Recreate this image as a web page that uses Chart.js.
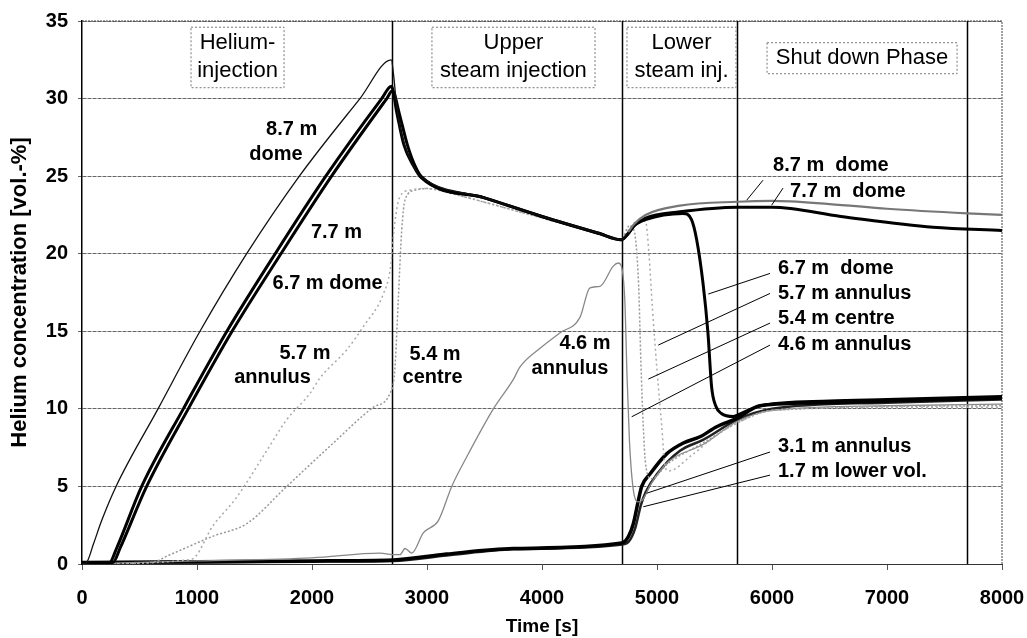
<!DOCTYPE html>
<html>
<head>
<meta charset="utf-8">
<script src="https://cdn.jsdelivr.net/npm/chart.js@4.4.1/dist/chart.umd.min.js"></script>
<style>
html,body{margin:0;padding:0;background:#fff;}
</style>
</head>
<body>
<canvas id="myChart" width="1027" height="638"></canvas>
<script>
// series: time [s] and helium concentration [vol.-%]
var t87 = [0,40,100,171,296,661,1026,1432,1890,2417,2690,2710,2730,2770,2830,2900,2960,3500,4000,4500,4690,4750,4800,4900,5200,5700,6000,6500,7000,7700,8000];
var v87 = [0,0.1,1.3,2.8,5,10,15,20,25,30,32.5,31.5,30,28,26.5,25.4,24.9,23.6,22.4,21.3,20.9,21.4,21.9,22.5,23.1,23.35,23.4,23.2,22.9,22.6,22.5];

var t77 = [0,240,300,519,881,1260,1680,2120,2606,2690,2740,2800,2880,2950,3500,4000,4500,4690,4750,4800,4900,5200,5700,6000,6600,7400,8000];
var v77 = [0.1,0.1,1,5,10,15,20,25,30,30.8,29,27,25.7,24.9,23.6,22.4,21.3,20.9,21.3,21.8,22.3,22.7,23.0,23.0,22.4,21.7,21.5];

var t67 = [0,270,330,562,924,1305,1730,2170,2650,2700,2760,2830,2900,2960,3500,4000,4500,4690,4750,4800,4900,5226,5300,5345,5400,5443,5475,5510,5560,5664,5700,5900,6500,7000,8000];
var v67 = [0.1,0.1,1,5,10,15,20,25,30,30.5,29,27,25.6,24.9,23.6,22.4,21.3,20.9,21.3,21.8,22.2,22.6,22.2,20.9,18.1,14.9,11.4,10.2,9.7,9.5,9.6,10.2,10.5,10.6,10.8];

var t57 = [0,950,1142,1345,1606,1780,1983,2070,2301,2446,2620,2680,2720,2760,2850,3000,3200,3461,4000,4500,4690,4750,4800,4900,4930,4960,5000,5040,5070,5100,5300,5500,5700,6000,7000,8000];
var v57 = [0,0.3,2.5,4.3,7.3,9.3,11,12,13.8,15.3,17.4,19,22,23.6,24.1,24.2,23.9,23.4,22.3,21.3,20.9,21.5,22,22.1,20,16.5,12.5,9,6.3,6.0,7.0,8.2,9.1,9.9,10.1,10.1];

var t54 = [0,600,765,1142,1432,1780,2157,2533,2678,2720,2750,2780,2810,2900,3000,3200,3461,4000,4500,4690,4760,4800,4840,4860,4880,4900,4950,5100,5400,5700,6000,8000];
var v54 = [0,0.1,0.6,1.8,2.6,5,7.6,10.1,11,12.5,17,21.5,23.5,24.1,24.2,23.9,23.4,22.3,21.3,20.9,21.8,21.5,18,13,9,6.5,5.5,6.5,7.8,9.1,9.9,10.2];

var t46 = [0,1000,2000,2594,2700,2765,2809,2867,2968,3099,3215,3345,3577,3751,3809,3983,4157,4330,4417,4504,4620,4664,4690,4720,4740,4760,4790,4830,4870,4950,5100,5400,5700,6000,7000,8000];
var v46 = [0,0.2,0.4,0.7,0.6,0.6,1.0,0.7,2.0,2.8,5.0,6.9,10,11.9,12.7,13.9,14.9,15.9,17.8,17.9,19.2,19.4,19.2,17,12,8,5,4,4.1,5.2,6.6,7.7,9.2,9.9,10.2,10.3];

var t31 = [0,1000,2000,2707,3171,3750,4693,4751,4794,4838,4867,4939,5084,5229,5374,5519,5698,5896,6500,7000,8000];
var v31 = [0.1,0.15,0.2,0.26,0.64,1.0,1.35,1.76,2.6,4.1,5.0,5.8,7.1,7.8,8.2,8.85,9.4,10.2,10.4,10.5,10.7];

var t17 = [0,1000,2000,2707,3171,3750,4700,4760,4810,4860,4900,5000,5200,5400,5700,6000,7000,8000];
var v17 = [0.1,0.1,0.15,0.2,0.55,0.95,1.25,1.5,2.3,3.8,4.6,5.8,7.3,8.0,9.3,10.0,10.4,10.6];

var xTicks = [0,1000,2000,3000,4000,5000,6000,7000,8000];
var yTicks = [0,5,10,15,20,25,30,35];
var phaseTimes = [2700,4700,5700,7700];
var phaseNames = [["Helium-","injection"],["Upper","steam injection"],["Lower","steam inj."],["Shut down Phase"]];
var curveNames = ["8.7 m  dome","7.7 m  dome","6.7 m  dome","5.7 m annulus","5.4 m centre","4.6 m annulus","3.1 m annulus","1.7 m lower vol."];

const pts = (ts, vs) => ts.map((t, i) => ({x: t, y: vs[i]}));

// where things go on the plot (data coordinates)
const phaseBoxes = [
  {t0: 948, t1: 1757, v0: 30.7, v1: 34.6, rows: [33.6, 31.8]},
  {t0: 3043, t1: 4461, v0: 30.7, v1: 34.6, rows: [33.6, 31.8]},
  {t0: 4739, t1: 5687, v0: 30.7, v1: 34.6, rows: [33.6, 31.8]},
  {t0: 5957, t1: 7609, v0: 31.6, v1: 33.6, rows: [32.6]}
];
const leftLabels = [
  ["8.7 m", 1823, 28.0], ["dome", 1687, 26.4],
  ["7.7 m", 2213, 21.4],
  ["6.7 m dome", 2135, 18.1],
  ["5.7 m", 1939, 13.6], ["annulus", 1657, 12.05],
  ["5.4 m", 3070, 13.5], ["centre", 3048, 12.0],
  ["4.6 m", 4374, 14.2], ["annulus", 4243, 12.6]
];
const rightLabels = [
  [6009, 25.7, 5780, 23.45, 5922, 24.74],
  [6157, 24.0, 5997, 23.13, 6096, 24.23],
  [6052, 19.07, 5446, 17.4, 5983, 18.73],
  [6052, 17.46, 5011, 14.11, 5983, 17.44],
  [6052, 15.83, 4925, 11.92, 5983, 15.53],
  [6052, 14.18, 4780, 9.49, 5983, 14.11],
  [6052, 7.56, 4910, 4.56, 5983, 7.22],
  [6052, 5.95, 4881, 3.69, 5983, 5.73]
];

const FONT = '"Liberation Sans", Arial, sans-serif';

const phasePlugin = {
  id: 'phases',
  beforeDatasetsDraw(chart) {
    const {ctx, chartArea: a, scales: {x}} = chart;
    ctx.save();
    ctx.strokeStyle = '#444';
    ctx.lineWidth = 1;
    ctx.setLineDash([2, 1]);
    ctx.beginPath();
    ctx.moveTo(a.left, a.top); ctx.lineTo(a.right, a.top); ctx.lineTo(a.right, a.bottom);
    ctx.stroke();
    ctx.setLineDash([]);
    ctx.strokeStyle = '#000';
    ctx.lineWidth = 1.5;
    for (const t of phaseTimes) {
      const px = x.getPixelForValue(t);
      ctx.beginPath(); ctx.moveTo(px, a.top); ctx.lineTo(px, a.bottom); ctx.stroke();
    }
    ctx.restore();
  },
  afterDatasetsDraw(chart) {
    const {ctx, scales: {x, y}} = chart;
    ctx.save();
    // phase boxes
    ctx.font = '22px ' + FONT;
    ctx.textAlign = 'center';
    ctx.textBaseline = 'middle';
    phaseBoxes.forEach((b, i) => {
      const x0 = x.getPixelForValue(b.t0), x1 = x.getPixelForValue(b.t1);
      const y0 = y.getPixelForValue(b.v1), y1 = y.getPixelForValue(b.v0);
      ctx.fillStyle = '#fff';
      ctx.fillRect(x0, y0, x1 - x0, y1 - y0);
      ctx.strokeStyle = '#777';
      ctx.lineWidth = 1;
      ctx.setLineDash([2, 2]);
      ctx.strokeRect(x0, y0, x1 - x0, y1 - y0);
      ctx.setLineDash([]);
      ctx.fillStyle = '#000';
      phaseNames[i].forEach((s, k) => ctx.fillText(s, (x0 + x1) / 2, y.getPixelForValue(b.rows[k])));
    });
    // labels inside the plot
    ctx.font = 'bold 20px ' + FONT;
    leftLabels.forEach(l => ctx.fillText(l[0], x.getPixelForValue(l[1]), y.getPixelForValue(l[2])));
    // labels on the right with leader lines
    ctx.textAlign = 'left';
    ctx.strokeStyle = '#000';
    ctx.lineWidth = 1;
    rightLabels.forEach((l, i) => {
      ctx.fillText(curveNames[i], x.getPixelForValue(l[0]), y.getPixelForValue(l[1]));
      ctx.beginPath();
      ctx.moveTo(x.getPixelForValue(l[2]), y.getPixelForValue(l[3]));
      ctx.lineTo(x.getPixelForValue(l[4]), y.getPixelForValue(l[5]));
      ctx.stroke();
    });
    ctx.restore();
  }
};

const mono = {cubicInterpolationMode: 'monotone', pointRadius: 0, fill: false};

new Chart("myChart", {
  type: "line",
  data: {
    datasets: [
      Object.assign({label: curveNames[0], data: pts(t87, v87), borderColor: '#111', borderWidth: 1.3,
        segment: {borderColor: c => c.p0.parsed.x >= 4700 ? '#777' : '#111', borderWidth: c => c.p0.parsed.x >= 4700 ? 2.2 : 1.3}}, mono),
      Object.assign({label: curveNames[1], data: pts(t77, v77), borderColor: '#000', borderWidth: 3}, mono),
      Object.assign({label: curveNames[2], data: pts(t67, v67), borderColor: '#000', borderWidth: 3}, mono),
      Object.assign({label: curveNames[3], data: pts(t57, v57), borderColor: '#aaa', borderWidth: 1.5, borderDash: [2, 3]}, mono),
      Object.assign({label: curveNames[4], data: pts(t54, v54), borderColor: '#999', borderWidth: 1.5, borderDash: [2, 2]}, mono),
      Object.assign({label: curveNames[5], data: pts(t46, v46), borderColor: '#888', borderWidth: 1.3}, mono),
      Object.assign({label: curveNames[6], data: pts(t31, v31), borderColor: '#000', borderWidth: 3.5}, mono),
      Object.assign({label: curveNames[7], data: pts(t17, v17), borderColor: '#222', borderWidth: 2.5}, mono)
    ]
  },
  options: {
    responsive: false,
    animation: false,
    devicePixelRatio: 1,
    layout: {padding: {top: 21, right: 25, left: 0, bottom: 0}},
    plugins: {legend: {display: false}, tooltip: {enabled: false}},
    scales: {
      x: {
        type: 'linear', min: 0, max: 8000,
        afterFit: s => { s.height = 74; s.paddingLeft = 0; s.paddingRight = 0; },
        afterBuildTicks: s => { s.ticks = xTicks.map(v => ({value: v})); },
        ticks: {color: '#000', font: {family: FONT, size: 20, weight: 'bold'}, padding: 16, maxRotation: 0, callback: v => String(v)},
        grid: {drawOnChartArea: false, tickLength: 6, color: '#555'},
        border: {color: '#333', width: 1},
        title: {display: true, text: 'Time [s]', color: '#000', font: {family: FONT, size: 19, weight: 'bold'}, padding: {top: 0, bottom: 0}}
      },
      y: {
        min: 0, max: 35,
        afterFit: s => { s.width = 82; s.paddingTop = 0; s.paddingBottom = 0; },
        afterBuildTicks: s => { s.ticks = yTicks.map(v => ({value: v})); },
        ticks: {color: '#000', font: {family: FONT, size: 20, weight: 'bold'}, padding: 10},
        grid: {color: '#666', tickLength: 4, lineWidth: 1},
        border: {color: '#000', width: 1.5, dash: [4, 1]},
        title: {display: true, text: 'Helium concentration [vol.-%]', color: '#000', font: {family: FONT, size: 22, weight: 'bold'}, padding: {top: 7, bottom: 0}}
      }
    }
  },
  plugins: [phasePlugin]
});
</script>
</body>
</html>
